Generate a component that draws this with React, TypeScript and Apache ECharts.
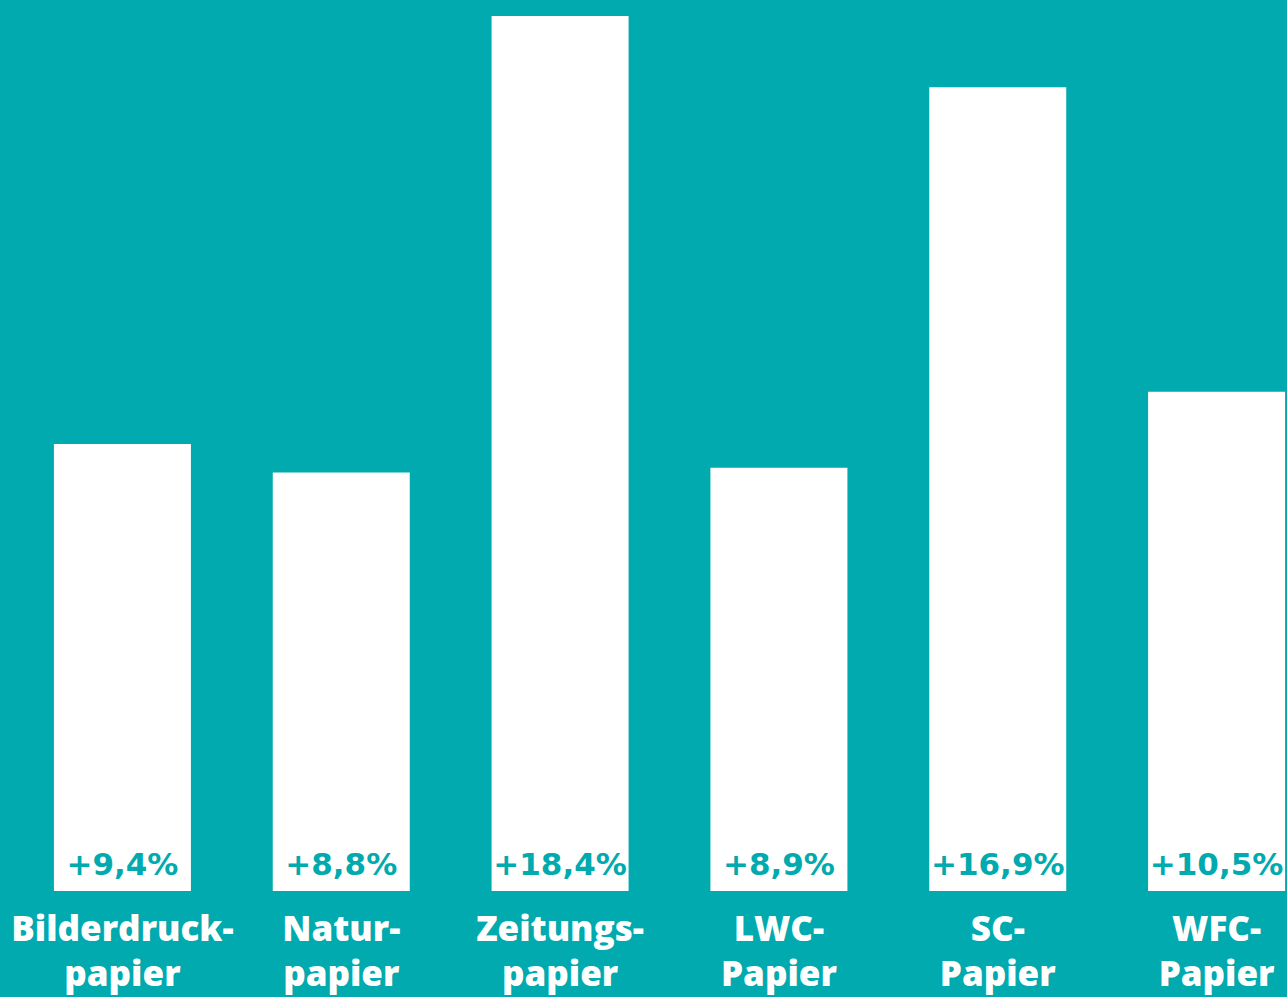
import React, { useEffect, useRef } from "react";
import * as echarts from "echarts";

const categories = [
  "Bilderdruck-\npapier",
  "Natur-\npapier",
  "Zeitungs-\npapier",
  "LWC-\nPapier",
  "SC-\nPapier",
  "WFC-\nPapier",
];
const values = [9.4, 8.8, 18.4, 8.9, 16.9, 10.5];
const valueLabels = ["+9,4%", "+8,8%", "+18,4%", "+8,9%", "+16,9%", "+10,5%"];

const TEAL = "#00aaae";
const FONT = "'Open Sans', sans-serif";
const VALUE_FONT = "'DejaVu Sans', sans-serif";

export default function App() {
  const ref = useRef<HTMLDivElement>(null);
  useEffect(() => {
    if (!ref.current) return;
    const chart = echarts.init(ref.current, undefined, { renderer: "svg" });
    chart.setOption({
      animation: false,
      backgroundColor: TEAL,
      grid: { left: 13, right: 0, top: 16, bottom: 106, containLabel: false },
      xAxis: {
        type: "category",
        data: categories,
        axisLine: { show: false },
        axisTick: { show: false },
        axisLabel: {
          color: "#ffffff",
          fontFamily: FONT,
          fontWeight: 800,
          fontSize: 35,
          lineHeight: 45,
          margin: 14,
          interval: 0,
        },
      },
      yAxis: {
        type: "value",
        min: 0,
        max: 18.4,
        show: false,
        splitLine: { show: false },
      },
      series: [
        {
          type: "bar",
          data: values,
          barWidth: 137,
          itemStyle: { color: "#ffffff" },
          label: {
            show: true,
            position: "insideBottom",
            distance: 12,
            color: TEAL,
            fontFamily: VALUE_FONT,
            fontWeight: "bold",
            fontSize: 31,
            formatter: (p: any) => valueLabels[p.dataIndex],
          },
        },
      ],
    });
    return () => chart.dispose();
  }, []);
  return (
    <div
      style={{
        position: "fixed",
        left: 0,
        top: 0,
        width: 1287,
        height: 997,
        overflow: "hidden",
        background: TEAL,
      }}
    >
      <div ref={ref} style={{ width: 1326, height: 997 }} />
    </div>
  );
}
